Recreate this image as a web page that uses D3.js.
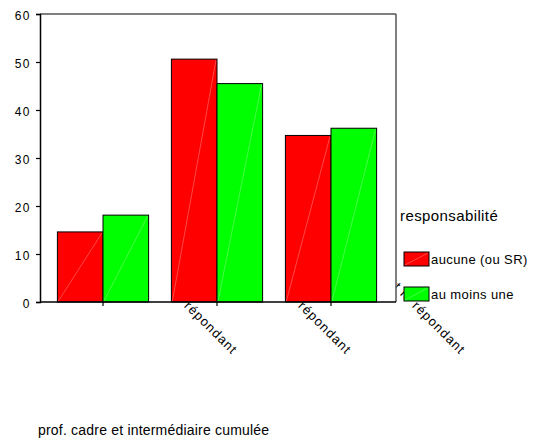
<!DOCTYPE html>
<html><head><meta charset="utf-8">
<script src="https://cdn.jsdelivr.net/npm/d3@7"></script>
<style>
body{margin:0;background:#fff}
text{font-family:"Liberation Sans",Arial,sans-serif;fill:#000}
</style>
</head><body>
<svg id="c" width="539" height="442"></svg>
<script>
const categories = ["ni le conjoint ni le répondant", "le conjoint mais pas le répondant", "le conjoint et le répondant"];
const seriesNames = ["aucune (ou SR)", "au moins une"];
const aucune = [14.6, 50.6, 34.7];
const auMoinsUne = [18.1, 45.5, 36.2];
const yTicks = [0, 10, 20, 30, 40, 50, 60];
const colors = ["#ff0000", "#00ff00"];
const legendTitle = "responsabilité";
const xTitle = "prof. cadre et intermédiaire cumulée";

const series = [aucune, auMoinsUne];
const svg = d3.select("#c");
const L = 40, R = 396, T = 14, B = 302;

const y = d3.scaleLinear().domain([0, 60]).range([B, T]);
const x0 = d3.scaleBand().domain(categories).range([46, 388]).paddingInner(0.2).paddingOuter(0.1);
const x1 = d3.scaleBand().domain(d3.range(series.length)).range([0, x0.bandwidth()]);

// x tick labels (drawn first, partly hidden by plot area)
const lab = svg.append("g");
categories.forEach(c => {
  const cx = x0(c) + x0.bandwidth() / 2;
  lab.append("text")
    .attr("text-anchor", "end")
    .attr("font-size", 13)
    .attr("letter-spacing", 1.1)
    .attr("transform", `translate(${cx + 129},355) rotate(45)`)
    .text(c);
});

// plot background
svg.append("rect").attr("x", L).attr("y", T).attr("width", R - L).attr("height", B - T).attr("fill", "#fff");

// bars
const g = svg.append("g");
categories.forEach((c, i) => {
  series.forEach((s, j) => {
    const bx = x0(c) + x1(j), bw = x1.bandwidth(), by = y(s[i]), bh = y(0) - y(s[i]);
    g.append("rect").attr("x", bx).attr("y", by).attr("width", bw).attr("height", bh)
      .attr("fill", colors[j]).attr("stroke", "#000").attr("stroke-width", 1);
    g.append("line").attr("x1", bx + 1).attr("y1", by + bh - 1).attr("x2", bx + bw - 1).attr("y2", by + 1)
      .attr("stroke", "#fff").attr("stroke-opacity", 0.35).attr("stroke-width", 0.8);
  });
});

// frame
svg.append("line").attr("x1", L).attr("x2", R).attr("y1", T).attr("y2", T).attr("stroke", "#555").attr("stroke-width", 1.5);
svg.append("line").attr("x1", R).attr("x2", R).attr("y1", T).attr("y2", B).attr("stroke", "#555").attr("stroke-width", 1.5);

// y axis
const yAxis = svg.append("g").attr("transform", `translate(${L},0)`)
  .call(d3.axisLeft(y).tickValues(yTicks).tickSize(4).tickPadding(5).tickFormat(d3.format("d")));
yAxis.select(".domain").attr("stroke", "#000").attr("stroke-width", 1.5);
yAxis.selectAll(".tick line").attr("stroke", "#000").attr("stroke-width", 1.2);
yAxis.selectAll(".tick text").attr("font-family", "Liberation Sans, Arial, sans-serif")
  .attr("font-size", 12).attr("letter-spacing", 1.5).attr("dy", "0.45em").attr("fill", "#000");

// x axis
const xAxis = svg.append("g").attr("transform", `translate(0,${B})`)
  .call(d3.axisBottom(x0).tickSize(4).tickFormat(""));
xAxis.select(".domain").attr("d", `M${L},0H${R}`).attr("stroke", "#000").attr("stroke-width", 1.5);
xAxis.selectAll(".tick line").attr("stroke", "#000").attr("stroke-width", 1.2);

// legend
const lg = svg.append("g");
lg.append("text").attr("x", 400).attr("y", 221).attr("font-size", 15).attr("letter-spacing", 0.4).text(legendTitle);
seriesNames.forEach((n, j) => {
  const sy = 252 + j * 35;
  lg.append("rect").attr("x", 404).attr("y", sy).attr("width", 25).attr("height", 14)
    .attr("fill", colors[j]).attr("stroke", "#000").attr("stroke-width", 1);
  lg.append("line").attr("x1", 405).attr("y1", sy + 13).attr("x2", 428).attr("y2", sy + 1)
    .attr("stroke", "#fff").attr("stroke-opacity", 0.35).attr("stroke-width", 0.8);
  lg.append("text").attr("x", 431).attr("y", sy + 12).attr("font-size", 13).attr("letter-spacing", 0.4).text(n);
});

// x title
svg.append("text").attr("x", 38).attr("y", 435).attr("font-size", 14).attr("letter-spacing", 0.2).text(xTitle);
</script>
</body></html>
